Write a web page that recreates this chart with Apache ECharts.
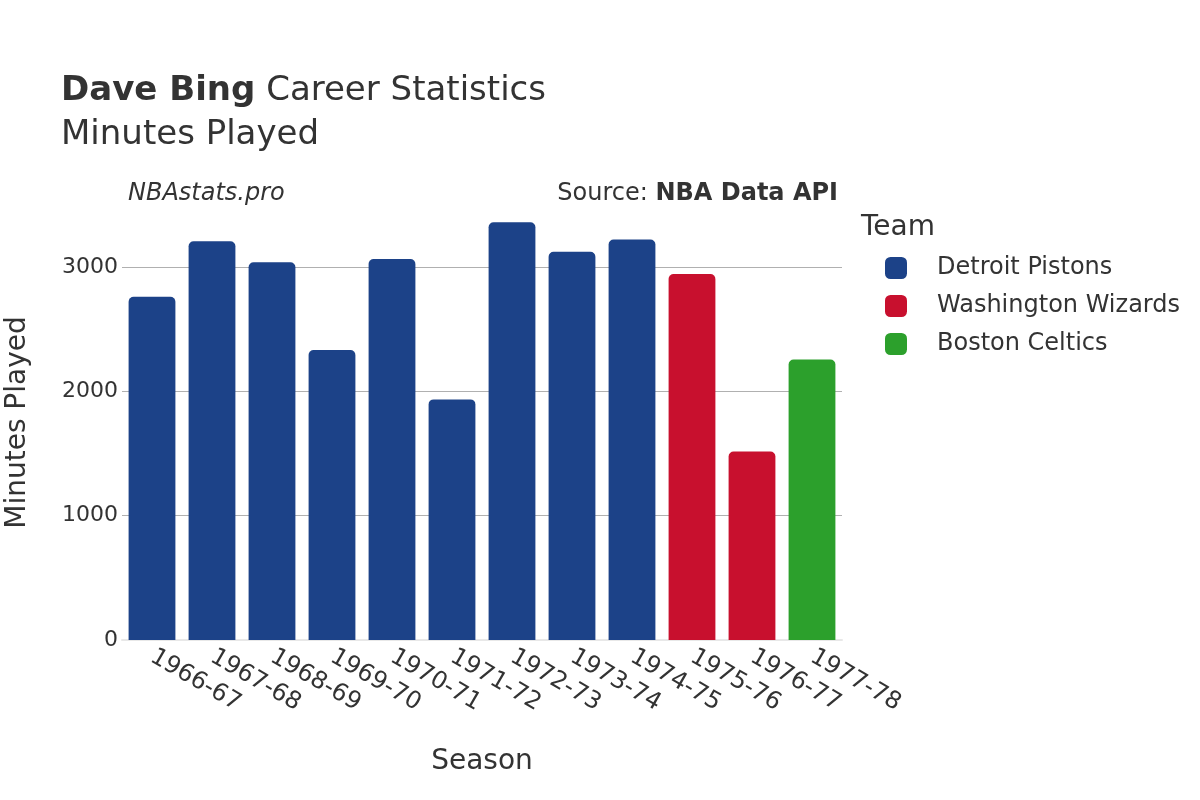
<!DOCTYPE html>
<html><head><meta charset="utf-8">
<script src="https://cdn.jsdelivr.net/npm/echarts@6/dist/echarts.min.js"></script>
<style>html,body{margin:0;padding:0;background:#fff}#c{width:1200px;height:800px}</style>
</head><body><div id="c"></div>
<script>
const seasons = ['1966-67','1967-68','1968-69','1969-70','1970-71','1971-72','1972-73','1973-74','1974-75','1975-76','1976-77','1977-78'];
const teams = ['Detroit Pistons','Washington Wizards','Boston Celtics'];
const teamColors = ['#1c4288','#c8102e','#2ca02c'];
const seasonTeam = ['Detroit Pistons','Detroit Pistons','Detroit Pistons','Detroit Pistons','Detroit Pistons','Detroit Pistons','Detroit Pistons','Detroit Pistons','Detroit Pistons','Washington Wizards','Washington Wizards','Boston Celtics'];
const minutes = [2762,3209,3039,2334,3065,1936,3361,3124,3222,2945,1516,2256];
const yTicks = [0,1000,2000,3000];

const FONT = 'DejaVu Sans';
const series = teams.map((t,i)=>({
  name: t, type: 'bar', stack: 'all', barWidth: '78%',
  itemStyle: {color: teamColors[i], borderRadius: [5,5,0,0]},
  data: minutes.map((v,k)=> seasonTeam[k]===t ? v : null)
}));

const chart = echarts.init(document.getElementById('c'), null, {renderer:'canvas'});
chart.setOption({
  animation: false,
  textStyle: {fontFamily: FONT},
  title: [
    {text: '{b|Dave Bing} Career Statistics\nMinutes Played', left: 61, top: 69, padding: 0,
     textStyle: {fontFamily: FONT, fontSize: 34, fontWeight: 'normal', color: '#333', lineHeight: 44,
       rich: {b: {fontFamily: FONT, fontSize: 34, fontWeight: 'bold', color: '#333'}}}},
    {text: 'NBAstats.pro', left: 128, top: 182, padding: 0,
     textStyle: {fontFamily: FONT, fontSize: 24, fontStyle: 'italic', fontWeight: 'normal', color: '#333'}},
    {text: 'Source: {b|NBA Data API}', right: 362, top: 182, padding: 0,
     textStyle: {fontFamily: FONT, fontSize: 24, fontWeight: 'normal', color: '#333',
       rich: {b: {fontFamily: FONT, fontSize: 24, fontWeight: 'bold', color: '#333'}}}},
    {text: 'Team', left: 861, top: 214, padding: 0,
     textStyle: {fontFamily: FONT, fontSize: 28, fontWeight: 'normal', color: '#333'}}
  ],
  legend: {
    orient: 'vertical', left: 885, top: 256, padding: 0, itemWidth: 22, itemHeight: 22, itemGap: 14,
    icon: 'roundRect', data: teams,
    textStyle: {fontFamily: FONT, fontSize: 24, color: '#333', padding: [0,0,0,25]}
  },
  grid: {left: 122, top: 205, width: 720, height: 435, containLabel: false, outerBoundsMode: 'none'},
  xAxis: {
    type: 'category', data: seasons,
    name: 'Season', nameLocation: 'middle', nameGap: 108,
    nameTextStyle: {fontFamily: FONT, fontSize: 28, color: '#333'},
    axisTick: {show: false},
    axisLine: {show: true, lineStyle: {color: '#e8e8e8', width: 2}},
    axisLabel: {rotate: -30, fontFamily: FONT, fontSize: 24, color: '#333', margin: 15, interval: 0}
  },
  yAxis: {
    type: 'value', min: 0, max: 3500, interval: 1000,
    name: 'Minutes Played', nameLocation: 'middle', nameGap: 90, nameRotate: 90,
    nameTextStyle: {fontFamily: FONT, fontSize: 28, color: '#333'},
    axisLine: {show: false}, axisTick: {show: false},
    axisLabel: {fontFamily: FONT, fontSize: 22, color: '#333', margin: 4,
      formatter: v => yTicks.includes(v) ? String(v) : ''},
    splitLine: {lineStyle: {color: ['#b0b0b0','#b0b0b0','#b0b0b0','#b0b0b0','rgba(0,0,0,0)'], width: 1}}
  },
  series: series
});
</script></body></html>
